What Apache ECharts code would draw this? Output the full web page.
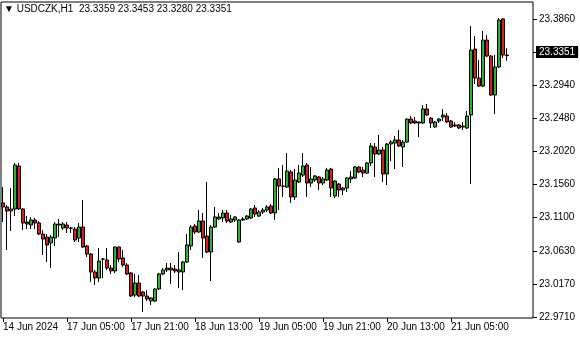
<!DOCTYPE html>
<html><head><meta charset="utf-8">
<script src="https://cdn.jsdelivr.net/npm/echarts@6/dist/echarts.min.js"></script>
<style>html,body{margin:0;padding:0;background:#fff}#c{width:580px;height:340px}</style>
</head><body><div id="c"></div>
<script>
const symbol = 'USDCZK', period = 'H1';
const days = ['14 Jun','17 Jun','18 Jun','19 Jun','20 Jun','21 Jun'];
const xTickLabels = ['14 Jun 2024','17 Jun 05:00','17 Jun 21:00','18 Jun 13:00','19 Jun 05:00','19 Jun 21:00','20 Jun 13:00','21 Jun 05:00'];
const yTicks = [22.9710, 23.0170, 23.0630, 23.1100, 23.1560, 23.2020, 23.2480, 23.2940, 23.3400, 23.3860];

const open = [
23.1298,23.1242,23.1186,23.1214,23.1813,23.1214,23.1033,23.0991,23.1061,23.1019,
23.0866,23.0824,23.0741,23.0810,23.1005,23.0949,23.0991,23.0949,23.0935,23.0810,
23.0963,23.0699,23.0587,23.0337,23.0253,23.0518,23.0504,23.0392,23.0351,23.0685,
23.0532,23.0434,23.0323,23.0016,23.0183,23.0058,23.0002,22.9933,22.9933,23.0100,
23.0309,23.0365,23.0365,23.0378,23.0337,23.0337,23.0476,23.0699,23.0977,23.0894,
23.1047,23.0838,23.0615,23.0963,23.1075,23.1089,23.1158,23.1033,23.1061,23.0754,
23.1061,23.1075,23.1089,23.1228,23.1116,23.1172,23.1200,23.1256,23.1158,23.1632,
23.1534,23.1520,23.1729,23.1381,23.1590,23.1687,23.1827,23.1576,23.1618,23.1660,
23.1576,23.1618,23.1771,23.1395,23.1562,23.1479,23.1506,23.1632,23.1646,23.1799,
23.1757,23.1715,23.1855,23.2077,23.1980,23.2036,23.1701,23.2119,23.2133,23.2175,
23.2077,23.2147,23.2467,23.2439,23.2426,23.2412,23.2607,23.2481,23.2356,23.2439,
23.2495,23.2509,23.2439,23.2370,23.2384,23.2356,23.2342,23.2523,23.3442,23.3038,
23.2927,23.3567,23.3345,23.2802,23.3192,23.3860,23.3359];
const high = [
23.1520,23.1270,23.1506,23.1855,23.1855,23.1228,23.1116,23.1103,23.1089,23.1047,
23.0922,23.0866,23.0852,23.1033,23.1075,23.1033,23.1033,23.0963,23.0963,23.1019,
23.1339,23.0713,23.0601,23.0365,23.0671,23.0532,23.0671,23.0434,23.0690,23.0690,
23.0643,23.0462,23.0337,23.0309,23.0295,23.0072,23.0086,22.9988,23.0114,23.0323,
23.0392,23.0462,23.0462,23.0434,23.0615,23.0490,23.0866,23.0991,23.1005,23.1200,
23.1158,23.1590,23.0991,23.1242,23.1158,23.1200,23.1200,23.1130,23.1116,23.1075,
23.1103,23.1130,23.1228,23.1270,23.1200,23.1228,23.1270,23.1284,23.1646,23.1785,
23.1827,23.1994,23.1757,23.1771,23.1827,23.1994,23.1855,23.1799,23.1687,23.1674,
23.1660,23.1785,23.1785,23.1618,23.1576,23.1520,23.1660,23.1743,23.1813,23.1813,
23.1799,23.1869,23.2133,23.2133,23.2245,23.2077,23.2133,23.2175,23.2231,23.2314,
23.2175,23.2475,23.2509,23.2495,23.2430,23.2662,23.2676,23.2495,23.2439,23.2481,
23.2607,23.2551,23.2453,23.2426,23.2398,23.2426,23.2579,23.3762,23.3623,23.3289,
23.3693,23.3637,23.3359,23.3359,23.3874,23.3874,23.3453];
const low = [
23.1033,23.0643,23.0908,23.1116,23.1200,23.0922,23.0935,23.0935,23.0935,23.0852,
23.0573,23.0476,23.0392,23.0699,23.0824,23.0922,23.0880,23.0880,23.0754,23.0754,
23.0671,23.0546,23.0197,23.0156,23.0197,23.0253,23.0365,23.0309,23.0323,23.0476,
23.0406,23.0295,22.9988,22.9988,22.9988,22.9780,22.9933,22.9877,22.9919,23.0086,
23.0295,23.0337,23.0170,23.0323,23.0114,23.0086,23.0462,23.0643,23.0866,23.0880,
23.0532,23.0601,23.0211,23.0949,23.1061,23.1033,23.1019,23.1019,23.1033,23.0741,
23.1047,23.1061,23.1075,23.1103,23.1103,23.1144,23.1172,23.1144,23.1061,23.1200,
23.1381,23.1506,23.1298,23.1339,23.1576,23.1660,23.1381,23.1520,23.1590,23.1479,
23.1548,23.1604,23.1381,23.1367,23.1381,23.1409,23.1451,23.1576,23.1632,23.1715,
23.1660,23.1701,23.1813,23.1660,23.1966,23.1590,23.1548,23.1882,23.1771,23.2077,
23.1799,23.2133,23.2398,23.2398,23.2217,23.2398,23.2509,23.2342,23.2342,23.2412,
23.2439,23.2412,23.2342,23.2356,23.2328,23.2314,23.2328,23.1562,23.2955,23.2913,
23.2913,23.3331,23.2788,23.2537,23.3178,23.3317,23.3280];
const close = [
23.1242,23.1186,23.1214,23.1827,23.1214,23.1019,23.1005,23.1061,23.1019,23.0866,
23.0796,23.0713,23.0824,23.1005,23.0991,23.1005,23.0949,23.0945,23.0782,23.0963,
23.0685,23.0587,23.0337,23.0253,23.0490,23.0515,23.0392,23.0351,23.0685,23.0518,
23.0434,23.0309,23.0002,23.0183,23.0002,23.0002,22.9961,22.9975,23.0100,23.0309,
23.0365,23.0392,23.0392,23.0351,23.0365,23.0476,23.0713,23.0963,23.0894,23.1047,
23.0810,23.0615,23.0963,23.1103,23.1103,23.1158,23.1047,23.1075,23.1103,23.1061,
23.1075,23.1116,23.1214,23.1144,23.1172,23.1200,23.1242,23.1158,23.1632,23.1534,
23.1530,23.1743,23.1381,23.1618,23.1715,23.1813,23.1576,23.1632,23.1674,23.1576,
23.1632,23.1757,23.1506,23.1604,23.1479,23.1506,23.1646,23.1660,23.1799,23.1729,
23.1715,23.1855,23.2091,23.1980,23.2036,23.1701,23.2119,23.2147,23.2175,23.2091,
23.2147,23.2467,23.2412,23.2412,23.2412,23.2607,23.2523,23.2412,23.2426,23.2467,
23.2523,23.2426,23.2356,23.2384,23.2342,23.2370,23.2509,23.3428,23.3038,23.2927,
23.3567,23.3345,23.2802,23.3192,23.3846,23.3359,23.3351];

// hourly categories: 14 Jun 13:00 .. 21 Jun 19:00 (weekend skipped)
const categories = [];
days.forEach((d, di) => {
  const h0 = di === 0 ? 13 : 0;
  const h1 = di === days.length - 1 ? 19 : 23;
  for (let h = h0; h <= h1; h++) categories.push(d + ' ' + String(h).padStart(2, '0') + ':00');
});
const N = open.length;
const candles = open.map((o, i) => [o, close[i], low[i], high[i]]);
const last = N - 1;
const font = 'Liberation Sans, Arial, sans-serif';

const chart = echarts.init(document.getElementById('c'), null, {renderer: 'canvas'});
chart.setOption({
  animation: false,
  backgroundColor: '#fff',
  title: {
    text: '\u25BC ' + symbol + ',' + period + '  ' + [open[last], high[last], low[last], close[last]].map(v => v.toFixed(4)).join(' '),
    left: 4, top: 4, padding: 0,
    textStyle: {fontSize: 10, fontWeight: 'normal', color: '#000', fontFamily: font}
  },
  grid: {left: 1, right: 47, top: 2, bottom: 22, show: true, borderColor: '#000', borderWidth: 1, backgroundColor: '#fff'},
  xAxis: {
    type: 'category', data: categories, max: 132, boundaryGap: true,
    axisLine: {show: false},
    axisTick: {show: true, length: 4, alignWithLabel: true, lineStyle: {color: '#000'},
      interval: (i) => i % 16 === 0 && i < N},
    axisLabel: {
      interval: (i) => i % 16 === 0 && i < N,
      align: 'left', margin: 4, fontSize: 10, color: '#000', fontFamily: font,
      formatter: (v, i) => (i % 16 === 0 && xTickLabels[i / 16]) ? xTickLabels[i / 16] : ''
    },
    splitLine: {show: false}
  },
  yAxis: {
    type: 'value', position: 'right', scale: true, min: 22.9696, max: 23.4097,
    axisLine: {show: false},
    axisTick: {show: true, length: 4, lineStyle: {color: '#000'}, customValues: yTicks},
    axisLabel: {customValues: yTicks, margin: 6, fontSize: 10, color: '#000', fontFamily: font,
      formatter: (v) => v.toFixed(4)},
    splitLine: {show: false}
  },
  series: [{
    type: 'candlestick',
    data: candles,
    barWidth: 3,
    clip: false,
    itemStyle: {color: '#30b030', color0: '#d42020', borderColor: '#000', borderColor0: '#000', borderWidth: 1},
    markLine: {
      symbol: 'none', silent: true, animation: false,
      lineStyle: {color: 'rgba(0,0,0,0)', width: 1, type: 'solid'},
      label: {show: true, position: 'end', distance: 3, formatter: () => close[last].toFixed(4),
        backgroundColor: '#000', color: '#fff', padding: [1, 3, 1, 3], fontSize: 10, fontFamily: font},
      emphasis: {disabled: true},
      data: [{yAxis: close[last]}]
    }
  }]
});
</script></body></html>
